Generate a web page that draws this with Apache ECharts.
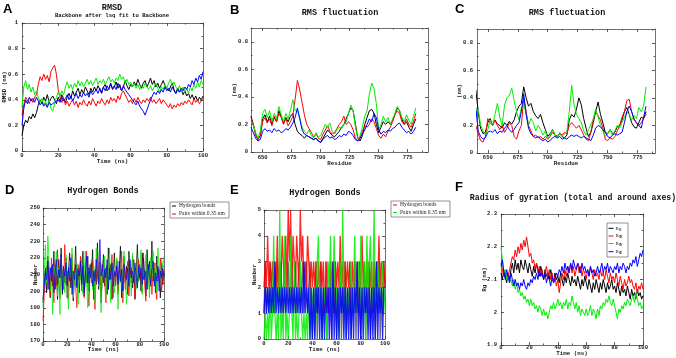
<!DOCTYPE html>
<html>
<head>
<meta charset="utf-8">
<title>MD analysis panels</title>
<script src="https://cdn.jsdelivr.net/npm/echarts@6.0.0/dist/echarts.min.js"></script>
<style>
  html, body { margin: 0; padding: 0; background: #fff; }
  #chart { width: 676px; height: 358px; }
</style>
</head>
<body>
<div id="chart"></div>
<script>
// ---- data ----
// A: RMSD, one value per ns, 0..100 ns
var rmsdBlack = [0.12,0.2,0.24,0.22,0.27,0.25,0.29,0.26,0.3,
  0.36,0.4,0.37,0.42,0.39,0.44,0.38,0.41,0.43,0.4,0.37,0.42,
  0.39,0.44,0.41,0.38,0.42,0.45,0.41,0.47,0.43,0.46,
  0.49,0.44,0.48,0.45,0.5,0.47,0.44,0.49,0.46,0.5,
  0.47,0.51,0.48,0.45,0.5,0.52,0.47,0.49,0.53,0.48,
  0.5,0.54,0.49,0.52,0.47,0.5,0.55,0.51,0.48,0.52,
  0.5,0.54,0.51,0.56,0.52,0.49,0.53,0.55,0.5,0.53,
  0.57,0.52,0.55,0.5,0.53,0.49,0.52,0.55,0.51,0.5,
  0.47,0.5,0.53,0.48,0.45,0.49,0.46,0.48,0.44,0.47,
  0.43,0.45,0.41,0.44,0.4,0.43,0.39,0.42,0.4,0.43];
var rmsdRed = [0.28,0.36,0.42,0.4,0.37,0.41,0.38,0.42,0.44,
  0.52,0.58,0.55,0.6,0.56,0.59,0.54,0.62,0.65,0.67,0.6,0.48,
  0.42,0.38,0.41,0.36,0.39,0.35,0.38,0.4,0.36,0.39,
  0.34,0.38,0.36,0.4,0.37,0.35,0.39,0.36,0.41,0.38,
  0.35,0.39,0.37,0.41,0.38,0.36,0.4,0.37,0.42,0.39,
  0.41,0.38,0.43,0.4,0.45,0.47,0.44,0.41,0.38,0.4,
  0.37,0.41,0.38,0.42,0.39,0.37,0.4,0.38,0.41,0.39,
  0.42,0.38,0.4,0.37,0.39,0.41,0.37,0.4,0.38,0.36,
  0.34,0.37,0.33,0.36,0.34,0.37,0.35,0.38,0.36,0.39,
  0.37,0.4,0.38,0.36,0.41,0.38,0.4,0.37,0.39,0.41];
var rmsdGreen = [0.34,0.5,0.55,0.48,0.52,0.46,0.5,0.44,0.47,
  0.42,0.38,0.41,0.36,0.39,0.35,0.4,0.33,0.31,0.37,0.42,0.46,
  0.43,0.47,0.44,0.5,0.54,0.49,0.52,0.48,0.53,0.5,
  0.55,0.51,0.54,0.5,0.53,0.56,0.52,0.55,0.51,0.54,
  0.57,0.52,0.55,0.53,0.56,0.52,0.55,0.58,0.54,0.56,
  0.53,0.57,0.55,0.6,0.56,0.58,0.53,0.56,0.52,0.54,
  0.5,0.53,0.49,0.52,0.48,0.51,0.49,0.53,0.5,0.48,
  0.51,0.47,0.5,0.53,0.49,0.46,0.5,0.48,0.52,0.49,
  0.53,0.56,0.51,0.54,0.5,0.48,0.51,0.47,0.5,0.46,
  0.49,0.45,0.5,0.47,0.52,0.49,0.54,0.5,0.55,0.52];
var rmsdBlue = [0.2,0.33,0.4,0.37,0.42,0.39,0.41,0.38,0.42,
  0.39,0.36,0.38,0.35,0.37,0.34,0.38,0.36,0.35,0.38,0.37,0.4,
  0.38,0.42,0.39,0.41,0.44,0.4,0.43,0.39,0.42,0.45,
  0.41,0.44,0.42,0.46,0.43,0.45,0.42,0.47,0.44,0.46,
  0.48,0.45,0.49,0.46,0.5,0.47,0.51,0.48,0.52,0.49,
  0.51,0.48,0.53,0.5,0.47,0.51,0.48,0.46,0.44,0.42,
  0.4,0.38,0.36,0.39,0.35,0.33,0.31,0.28,0.32,0.36,
  0.4,0.43,0.46,0.44,0.47,0.45,0.48,0.46,0.5,0.47,
  0.49,0.46,0.5,0.47,0.45,0.48,0.46,0.49,0.47,0.5,
  0.48,0.52,0.5,0.55,0.52,0.57,0.54,0.59,0.56,0.62];

// B: RMS fluctuation, residues 640..782 every 2
var rmsfBBlack = [0.26,0.2,0.13,0.09,0.12,0.24,0.27,0.22,0.26,0.2,
  0.25,0.22,0.3,0.26,0.21,0.25,0.22,0.26,0.28,0.2,
  0.15,0.13,0.12,0.1,0.12,0.11,0.1,0.09,0.1,0.08,
  0.07,0.1,0.13,0.16,0.14,0.12,0.11,0.13,0.15,0.18,
  0.2,0.24,0.28,0.32,0.3,0.2,0.1,0.08,0.12,0.2,
  0.25,0.3,0.31,0.28,0.2,0.14,0.18,0.22,0.2,0.22,
  0.2,0.23,0.27,0.32,0.3,0.24,0.2,0.22,0.18,0.15,
  0.2,0.24];
var rmsfBRed = [0.25,0.2,0.12,0.09,0.12,0.22,0.25,0.21,0.24,0.19,
  0.26,0.22,0.28,0.25,0.2,0.24,0.19,0.22,0.26,0.38,
  0.52,0.45,0.36,0.27,0.2,0.17,0.14,0.11,0.13,0.1,
  0.09,0.13,0.16,0.19,0.15,0.13,0.14,0.17,0.2,0.22,
  0.26,0.2,0.22,0.2,0.16,0.1,0.08,0.11,0.15,0.19,
  0.18,0.2,0.24,0.22,0.17,0.12,0.1,0.13,0.11,0.15,
  0.18,0.22,0.27,0.3,0.28,0.22,0.2,0.24,0.2,0.18,
  0.22,0.28];
var rmsfBGreen = [0.22,0.2,0.14,0.1,0.15,0.28,0.31,0.25,0.3,0.22,
  0.28,0.24,0.33,0.27,0.22,0.28,0.24,0.3,0.38,0.3,
  0.3,0.25,0.18,0.15,0.13,0.16,0.12,0.1,0.14,0.11,
  0.12,0.16,0.2,0.18,0.21,0.15,0.13,0.16,0.18,0.17,
  0.2,0.22,0.28,0.34,0.3,0.18,0.1,0.12,0.18,0.26,
  0.3,0.42,0.5,0.46,0.35,0.16,0.2,0.26,0.22,0.25,
  0.2,0.24,0.28,0.33,0.3,0.25,0.22,0.27,0.23,0.2,
  0.26,0.32];
var rmsfBBlue = [0.18,0.14,0.1,0.08,0.09,0.15,0.17,0.15,0.16,0.14,
  0.17,0.15,0.16,0.14,0.15,0.17,0.16,0.18,0.21,0.25,
  0.32,0.24,0.16,0.13,0.12,0.11,0.1,0.09,0.1,0.08,
  0.07,0.09,0.11,0.12,0.1,0.11,0.09,0.1,0.12,0.11,
  0.13,0.12,0.15,0.14,0.12,0.09,0.08,0.1,0.13,0.16,
  0.2,0.24,0.22,0.28,0.25,0.16,0.13,0.15,0.14,0.16,
  0.15,0.17,0.18,0.2,0.21,0.18,0.16,0.14,0.15,0.13,
  0.15,0.18];

// C: RMS fluctuation, residues 640..782 every 2
var rmsfCBlack = [0.46,0.3,0.18,0.14,0.15,0.22,0.25,0.2,0.24,0.21,
  0.2,0.18,0.22,0.2,0.23,0.21,0.24,0.3,0.34,0.36,
  0.48,0.4,0.34,0.36,0.3,0.27,0.25,0.28,0.22,0.17,
  0.12,0.14,0.17,0.13,0.12,0.14,0.12,0.11,0.13,0.24,
  0.28,0.26,0.32,0.4,0.35,0.25,0.18,0.12,0.15,0.22,
  0.3,0.37,0.28,0.22,0.15,0.14,0.17,0.14,0.15,0.19,
  0.2,0.24,0.3,0.33,0.28,0.22,0.19,0.18,0.22,0.26,
  0.25,0.3];
var rmsfCRed = [0.2,0.14,0.09,0.08,0.12,0.25,0.22,0.2,0.24,0.2,
  0.17,0.2,0.15,0.18,0.22,0.2,0.12,0.1,0.16,0.2,
  0.4,0.3,0.2,0.16,0.12,0.13,0.11,0.12,0.1,0.12,
  0.1,0.12,0.15,0.13,0.12,0.14,0.13,0.15,0.14,0.2,
  0.22,0.2,0.18,0.2,0.17,0.13,0.1,0.09,0.15,0.25,
  0.3,0.27,0.24,0.18,0.1,0.09,0.11,0.1,0.12,0.16,
  0.2,0.26,0.3,0.38,0.39,0.3,0.24,0.22,0.2,0.22,
  0.25,0.28];
var rmsfCGreen = [0.28,0.32,0.2,0.16,0.13,0.17,0.24,0.2,0.28,0.36,
  0.26,0.2,0.35,0.4,0.42,0.47,0.38,0.3,0.24,0.33,
  0.36,0.28,0.2,0.25,0.22,0.16,0.2,0.17,0.13,0.16,
  0.1,0.13,0.17,0.13,0.11,0.15,0.12,0.14,0.16,0.3,
  0.49,0.35,0.28,0.25,0.22,0.16,0.13,0.17,0.21,0.24,
  0.32,0.26,0.2,0.16,0.12,0.14,0.17,0.13,0.16,0.2,
  0.18,0.22,0.26,0.3,0.28,0.24,0.27,0.25,0.33,0.3,
  0.34,0.48];
var rmsfCBlue = [0.33,0.16,0.12,0.1,0.11,0.15,0.16,0.15,0.17,0.14,
  0.16,0.15,0.18,0.2,0.17,0.15,0.17,0.2,0.22,0.3,
  0.43,0.28,0.18,0.14,0.12,0.11,0.12,0.1,0.09,0.1,
  0.08,0.09,0.11,0.12,0.11,0.12,0.1,0.11,0.1,0.12,
  0.13,0.12,0.13,0.12,0.11,0.12,0.11,0.1,0.09,0.13,
  0.18,0.2,0.19,0.17,0.15,0.12,0.11,0.13,0.14,0.13,
  0.14,0.15,0.22,0.3,0.34,0.3,0.25,0.22,0.2,0.18,
  0.26,0.34];

// D: hydrogen bonds (count), one value per ns
var hbBlack = [193,205,214,199,221,207,196,215,203,224,
  201,212,195,219,208,226,198,213,205,220,
  196,211,223,202,215,194,209,227,203,214,
  199,218,206,224,197,212,205,221,200,216,
  209,225,195,213,204,229,201,217,193,210,
  222,203,214,198,226,207,216,195,211,223,
  204,218,200,213,227,196,210,221,205,215,
  198,224,208,214,202,219,195,212,228,206,
  216,200,223,207,213,197,225,209,218,203,
  230,206,214,199,221,208,213,196,217,204,211];
var hbRed = [182,198,206,215,201,212,197,220,205,193,
  216,203,225,208,196,219,210,201,228,204,
  212,195,218,206,222,199,214,203,190,216,
  207,221,200,213,196,209,224,202,191,215,
  205,218,199,189,212,226,203,214,197,209,
  220,206,193,215,201,217,208,222,196,211,
  203,219,198,212,207,224,193,215,201,209,
  218,197,213,205,221,208,196,214,202,219,
  207,212,199,223,205,194,216,209,201,213,
  198,211,217,203,195,214,206,220,200,208,213];
var hbGreen = [190,212,228,205,233,218,200,210,186,215,
  209,224,197,214,186,220,206,213,199,222,
  204,189,218,208,226,196,211,203,217,192,
  214,207,220,198,211,224,205,190,213,208,
  219,201,215,193,226,210,203,218,187,212,
  207,221,196,214,204,226,193,216,208,199,
  213,220,189,211,205,217,199,224,208,192,
  215,203,210,197,223,209,214,201,219,206,
  212,225,198,216,207,222,201,213,196,220,
  209,224,205,217,200,226,211,207,219,214,221];
var hbBlue = [195,203,212,207,218,201,214,206,216,199,
  211,219,204,213,208,222,200,215,209,217,
  203,214,206,220,198,212,207,216,202,213,
  209,218,204,215,199,211,221,205,214,208,
  217,203,212,206,219,210,204,231,209,216,
  205,213,208,219,201,214,207,217,203,212,
  209,215,204,218,206,213,200,216,210,207,
  214,203,219,208,212,205,217,209,202,215,
  208,214,204,220,207,212,201,216,209,205,
  213,218,203,211,206,215,200,212,208,214,209];

// E: hydrogen bonds (count), one value per ns
var hbeBlack = [1,3,1,2,1,3,2,1,3,1, 2,3,1,2,3,1,2,3,1,2,
  3,1,2,3,1,2,3,1,2,3, 1,2,3,1,2,3,1,2,3,1,
  0,2,1,3,0,2,1,3,0,2, 1,3,0,2,1,3,0,2,1,3,
  0,2,1,3,0,2,1,3,0,2, 1,3,0,2,1,3,0,2,1,3,
  0,2,1,3,0,2,1,3,0,2, 1,3,0,2,1,3,0,2,1,3, 2];
var hbeRed = [2,3,2,4,2,3,2,3,2,3, 2,4,2,3,2,4,3,2,4,2,
  5,3,5,2,4,3,2,4,3,2, 5,3,4,2,3,2,4,3,2,3,
  2,3,2,3,1,3,2,3,2,3, 1,2,3,1,2,3,2,3,1,3,
  2,3,2,4,2,3,1,3,2,3, 2,3,1,3,2,3,2,3,1,3,
  2,4,2,3,1,3,2,3,2,3, 1,3,2,3,2,4,2,3,2,3, 2];
var hbeGreen = [0,1,0,1,0,2,0,1,4,1, 0,1,0,5,0,1,0,4,0,1,
  0,1,4,1,0,3,0,1,0,1, 3,1,0,1,0,1,0,2,0,1,
  1,2,0,1,3,4,1,2,0,1, 2,1,0,3,2,4,1,2,4,1,
  2,1,0,3,1,5,2,1,0,2, 1,2,3,1,2,4,1,2,3,1,
  4,2,1,3,0,4,2,3,4,1, 2,5,1,2,3,2,1,2,3,1, 2];
var hbeBlue = [1,2,1,2,1,2,1,2,1,3, 1,2,1,2,1,2,1,2,1,2,
  1,2,1,2,1,2,1,2,1,2, 1,2,1,3,1,2,1,2,0,2,
  0,2,0,2,1,2,0,2,0,2, 0,2,1,2,0,2,0,3,0,2,
  0,2,0,2,1,2,0,2,0,2, 0,2,0,2,0,2,1,3,0,2,
  0,2,0,2,1,2,0,2,0,2, 0,2,0,3,0,2,1,2,0,2, 2];

// F: radius of gyration (nm), one value per ns
var rgTotal = [2.12,2.1,2.13,2.11,2.09,2.12,2.1,2.13,2.15,2.12,
  2.16,2.13,2.15,2.12,2.16,2.14,2.13,2.16,2.14,2.12,
  2.15,2.13,2.11,2.14,2.12,2.15,2.13,2.11,2.14,2.12,
  2.1,2.13,2.11,2.12,2.1,2.13,2.11,2.09,2.12,2.1,
  2.11,2.09,2.12,2.1,2.08,2.11,2.09,2.12,2.1,2.08,
  2.11,2.09,2.1,2.08,2.11,2.09,2.07,2.1,2.08,2.11,
  2.09,2.07,2.1,2.08,2.06,2.09,2.07,2.1,2.08,2.06,
  2.09,2.07,2.1,2.08,2.06,2.09,2.07,2.08,2.1,2.07,
  2.08,2.06,2.09,2.07,2.05,2.08,2.06,2.07,2.05,2.08,
  2.06,2.04,2.07,2.05,2.06,2.04,2.07,2.05,2.06,2.04,2.05];
var rgX = [2.15,2.13,2.11,2.12,2.1,2.11,2.13,2.15,2.17,2.16,
  2.19,2.17,2.2,2.18,2.21,2.19,2.22,2.2,2.23,2.2,
  2.17,2.18,2.15,2.16,2.13,2.15,2.12,2.14,2.11,2.13,
  2.1,2.12,2.14,2.11,2.13,2.1,2.12,2.09,2.11,2.08,
  2.1,2.06,2.09,2.12,2.1,2.13,2.11,2.14,2.12,2.15,
  2.12,2.14,2.11,2.13,2.15,2.12,2.14,2.11,2.13,2.12,
  2.1,2.13,2.11,2.14,2.12,2.1,2.13,2.11,2.12,2.1,
  2.13,2.11,2.12,2.1,2.13,2.11,2.09,2.12,2.1,2.11,
  2.09,2.12,2.1,2.08,2.11,2.09,2.07,2.1,2.08,2.09,
  2.11,2.09,2.1,2.08,2.07,2.09,2.06,2.08,2.07,2.09,2.07];
var rgY = [2.2,2.16,2.12,2.13,2.1,2.11,2.09,2.1,2.08,2.1,
  2.07,2.09,2.06,2.07,2.05,2.06,2.04,2.05,2.03,2.04,
  2.02,2.04,2.02,2.03,2.01,2.02,2.0,2.02,2.01,1.99,
  2.01,1.99,2.0,1.98,2.0,2.02,2.01,2.03,2.01,2.02,
  2.04,2.02,2.03,2.01,2.03,2.02,2.04,2.01,2.03,2.02,
  2.05,2.03,2.01,2.03,2.0,2.02,1.99,2.01,2.0,1.99,
  2.01,1.99,2.0,2.02,1.99,2.01,2.0,1.98,2.01,1.99,
  2.02,2.01,2.03,2.02,2.04,2.03,2.05,2.03,2.02,2.04,
  2.02,2.0,1.98,2.01,2.0,2.02,2.01,2.03,2.02,2.04,
  2.03,2.02,2.04,2.05,2.03,2.06,2.04,2.02,2.03,2.01,2.02];
var rgZ = [2.14,2.16,2.12,2.1,2.13,2.11,2.09,2.12,2.1,2.08,
  2.1,2.08,2.09,2.07,2.09,2.08,2.1,2.08,2.07,2.09,
  2.08,2.1,2.09,2.11,2.1,2.12,2.1,2.13,2.11,2.12,
  2.1,2.12,2.09,2.11,2.1,2.08,2.11,2.09,2.1,2.12,
  2.11,2.13,2.12,2.14,2.12,2.15,2.13,2.14,2.12,2.15,
  2.13,2.16,2.14,2.13,2.15,2.14,2.12,2.15,2.13,2.14,
  2.12,2.13,2.11,2.14,2.12,2.13,2.11,2.12,2.14,2.12,
  2.13,2.15,2.12,2.14,2.13,2.15,2.12,2.14,2.13,2.12,
  2.14,2.13,2.15,2.12,2.14,2.13,2.15,2.14,2.12,2.14,
  2.13,2.15,2.14,2.16,2.15,2.17,2.14,2.16,2.18,2.17,2.19];

// tick values
var timeTicks = [0, 20, 40, 60, 80, 100];
var timeMinor = [10, 30, 50, 70, 90];
var residueTicks = [650, 675, 700, 725, 750, 775];
var residueMinor = [662.5, 687.5, 712.5, 737.5, 762.5, 787.5];
var rmsdTicks = [0, 0.2, 0.4, 0.6, 0.8, 1];
var rmsdMinor = [0.1, 0.3, 0.5, 0.7, 0.9];
var rmsfTicks = [0, 0.2, 0.4, 0.6, 0.8];
var rmsfMinor = [0.1, 0.3, 0.5, 0.7, 0.9];
var hbTicks = [170, 180, 190, 200, 210, 220, 230, 240, 250];
var hbMinor = [175, 185, 195, 205, 215, 225, 235, 245];
var hbeTicks = [0, 1, 2, 3, 4, 5];
var hbeMinor = [0.5, 1.5, 2.5, 3.5, 4.5];
var rgTicks = [1.9, 2, 2.1, 2.2, 2.3];
var rgMinor = [1.95, 2.05, 2.15, 2.25];

var BLACK = '#000000', RED = '#ff0000', GREEN = '#00ee00', BLUE = '#0000ff';

// sample positions (time in ns, residue number)
function steps(start, step, n) {
  var out = [];
  for (var i = 0; i < n; i++) out.push(start + i * step);
  return out;
}
var timeNs = steps(0, 1, 101);
var residues = steps(640, 2, 72);

function pairs(xs, ys) {
  return ys.map(function (v, i) { return [xs[i], v]; });
}

var monoFont = 'Liberation Mono';
var axisColor = '#707070';

var panels = [
  { letter: 'A', lx: 3, ly: 3,
    grid: { left: 22, top: 23, width: 181, height: 128 },
    titles: [{ text: 'RMSD', x: 112, y: 3, size: 8.5 },
             { text: 'Backbone after lsq fit to Backbone', x: 112, y: 13, size: 5.6 }],
    x: { min: 0, max: 100, ticks: timeTicks, minor: timeMinor, name: 'Time (ns)', gap: 7.5, margin: 2 },
    y: { min: 0, max: 1, ticks: rmsdTicks, minor: rmsdMinor, name: 'RMSD (nm)', gap: 14.5, margin: 4 },
    xs: timeNs, lines: [[rmsdBlack, BLACK], [rmsdRed, RED], [rmsdGreen, GREEN], [rmsdBlue, BLUE]],
    width: 1, opacity: 1 },
  { letter: 'B', lx: 230, ly: 4,
    grid: { left: 251, top: 28, width: 177, height: 124 },
    titles: [{ text: 'RMS fluctuation', x: 340, y: 8, size: 8.5 }],
    x: { min: 640, max: 792.5, ticks: residueTicks, minor: residueMinor, name: 'Residue', gap: 8.5, margin: 3 },
    y: { min: 0, max: 0.9, ticks: rmsfTicks, minor: rmsfMinor, name: '(nm)', gap: 13, margin: 3 },
    xs: residues, lines: [[rmsfBBlack, BLACK], [rmsfBRed, RED], [rmsfBGreen, GREEN], [rmsfBBlue, BLUE]],
    width: 1, opacity: 1 },
  { letter: 'C', lx: 455, ly: 3,
    grid: { left: 477, top: 29, width: 178, height: 124 },
    titles: [{ text: 'RMS fluctuation', x: 567, y: 8, size: 8.5 }],
    x: { min: 641, max: 789.5, ticks: residueTicks, minor: residueMinor, name: 'Residue', gap: 8, margin: 2 },
    y: { min: 0, max: 0.9, ticks: rmsfTicks, minor: rmsfMinor, name: '(nm)', gap: 14, margin: 4 },
    xs: residues, lines: [[rmsfCBlack, BLACK], [rmsfCRed, RED], [rmsfCGreen, GREEN], [rmsfCBlue, BLUE]],
    width: 1, opacity: 1 },
  { letter: 'D', lx: 5, ly: 184,
    grid: { left: 43, top: 208, width: 121, height: 133 },
    titles: [{ text: 'Hydrogen Bonds', x: 103, y: 186, size: 8.5 }],
    x: { min: 0, max: 100, ticks: timeTicks, minor: timeMinor, name: 'Time (ns)', gap: 5.5, margin: 0.5 },
    y: { min: 170, max: 250, ticks: hbTicks, minor: hbMinor, name: 'Number', gap: 4, margin: 3 },
    xs: timeNs, lines: [[hbBlack, BLACK], [hbRed, RED], [hbGreen, GREEN], [hbBlue, BLUE]],
    width: 1, opacity: 0.75 },
  { letter: 'E', lx: 230, ly: 184,
    grid: { left: 264, top: 210, width: 121, height: 129 },
    titles: [{ text: 'Hydrogen Bonds', x: 325, y: 188, size: 8.5 }],
    x: { min: 0, max: 100, ticks: timeTicks, minor: timeMinor, name: 'Time (ns)', gap: 8, margin: 2 },
    y: { min: 0, max: 5, ticks: hbeTicks, minor: hbeMinor, name: 'Number', gap: 6, margin: 3 },
    xs: timeNs, lines: [[hbeBlack, '#555555'], [hbeRed, RED], [hbeGreen, GREEN], [hbeBlue, BLUE]],
    width: 1.3, opacity: 0.85 },
  { letter: 'F', lx: 455, ly: 181,
    grid: { left: 501, top: 214, width: 142, height: 131 },
    titles: [{ text: 'Radius of gyration (total and around axes)', x: 573, y: 194, size: 8.2 }],
    x: { min: 0, max: 100, ticks: timeTicks, minor: timeMinor, name: 'Time (ns)', gap: 5.5, margin: 0 },
    y: { min: 1.9, max: 2.3, ticks: rgTicks, minor: rgMinor, name: 'Rg (nm)', gap: 13, margin: 4 },
    xs: timeNs, lines: [[rgTotal, BLACK], [rgX, RED], [rgY, GREEN], [rgZ, BLUE]],
    width: 1, opacity: 1 }
];

function makeAxis(gi, position, spec, values, len, withLine, withLabel) {
  var ax = {
    type: 'value', gridIndex: gi, position: position,
    min: spec.min, max: spec.max, silent: true,
    axisLine: { show: withLine, onZero: false, lineStyle: { color: axisColor, width: 1 } },
    axisTick: { show: true, inside: true, length: len, customValues: values,
      lineStyle: { color: '#333', width: 0.8 } },
    axisLabel: { show: false },
    splitLine: { show: false }
  };
  if (withLabel) {
    ax.axisLabel = { show: true, customValues: values, margin: spec.margin,
      fontFamily: monoFont, fontSize: 5.5, fontWeight: 'bold', color: '#222' };
    ax.name = spec.name;
    ax.nameLocation = 'middle';
    ax.nameGap = spec.gap;
    ax.nameMoveOverlap = false;
    ax.nameTextStyle = { fontFamily: monoFont, fontSize: 5.8, fontWeight: 'bold', color: '#222' };
  }
  return ax;
}

var grids = [], xAxes = [], yAxes = [], series = [], titles = [], graphics = [];

panels.forEach(function (p, gi) {
  grids.push(Object.assign({ containLabel: false, outerBoundsMode: 'none' }, p.grid));

  var xi = xAxes.length;
  xAxes.push(makeAxis(gi, 'bottom', p.x, p.x.ticks, 3, true, true));
  xAxes.push(makeAxis(gi, 'bottom', p.x, p.x.minor, 1.5, false, false));
  xAxes.push(makeAxis(gi, 'top', p.x, p.x.ticks, 3, true, false));
  xAxes.push(makeAxis(gi, 'top', p.x, p.x.minor, 1.5, false, false));

  var yi = yAxes.length;
  yAxes.push(makeAxis(gi, 'left', p.y, p.y.ticks, 3, true, true));
  yAxes.push(makeAxis(gi, 'left', p.y, p.y.minor, 1.5, false, false));
  yAxes.push(makeAxis(gi, 'right', p.y, p.y.ticks, 3, true, false));
  yAxes.push(makeAxis(gi, 'right', p.y, p.y.minor, 1.5, false, false));

  p.lines.forEach(function (ln) {
    series.push({
      type: 'line', xAxisIndex: xi, yAxisIndex: yi,
      data: pairs(p.xs, ln[0]),
      symbol: 'none', showSymbol: false, silent: true, clip: true,
      lineStyle: { color: ln[1], width: p.width, opacity: p.opacity }
    });
  });

  p.titles.forEach(function (t) {
    titles.push({ text: t.text, left: t.x, top: t.y, textAlign: 'center', padding: 0,
      textStyle: { fontFamily: monoFont, fontSize: t.size, fontWeight: 'bold', color: '#111' } });
  });

  graphics.push({ type: 'text', x: p.lx, y: p.ly, silent: true,
    style: { text: p.letter, font: 'bold 13px "Liberation Sans"', fill: '#000', textVerticalAlign: 'top' } });
});

// legends drawn as small boxes, Grace style
var serifFont = '5.5px "Liberation Serif"';
function legendRow(x, y, color, label) {
  return [
    { type: 'line', silent: true, shape: { x1: x, y1: y, x2: x + 4, y2: y },
      style: { stroke: color, lineWidth: 1 } },
    { type: 'text', silent: true, x: x + 7, y: y,
      style: { text: label, font: serifFont, fill: '#222', textVerticalAlign: 'middle' } }
  ];
}
graphics.push({ type: 'rect', silent: true, shape: { x: 170, y: 202, width: 59, height: 16 },
  style: { fill: '#fff', stroke: '#777', lineWidth: 0.8 } });
graphics = graphics.concat(legendRow(172, 206, BLACK, 'Hydrogen bonds'),
                           legendRow(172, 214, RED, 'Pairs within 0.35 nm'));
graphics.push({ type: 'rect', silent: true, shape: { x: 391, y: 201, width: 59, height: 16 },
  style: { fill: '#fff', stroke: '#777', lineWidth: 0.8 } });
graphics = graphics.concat(legendRow(393, 205, RED, 'Hydrogen bonds'),
                           legendRow(393, 212.5, GREEN, 'Pairs within 0.35 nm'));

// F legend with subscripts
graphics.push({ type: 'rect', silent: true, z: 10, shape: { x: 607, y: 223, width: 21, height: 34 },
  style: { fill: '#fff', stroke: '#777', lineWidth: 0.8 } });
[[228.3, BLACK, 'Rg', ''], [236, RED, 'Rg', 'X'], [243.5, GREEN, 'Rg', 'Y'], [251.7, BLUE, 'Rg', 'Z']]
  .forEach(function (r) {
    graphics.push({ type: 'line', silent: true, z: 11, shape: { x1: 608.5, y1: r[0], x2: 613.5, y2: r[0] },
      style: { stroke: r[1], lineWidth: 1 } });
    graphics.push({ type: 'text', silent: true, z: 11, x: 615.5, y: r[0],
      style: { text: r[2], font: '5px "Liberation Serif"', fill: '#222', textVerticalAlign: 'middle' } });
    if (r[3]) {
      graphics.push({ type: 'text', silent: true, z: 11, x: 620, y: r[0] + 1.5,
        style: { text: r[3], font: '3.5px "Liberation Serif"', fill: '#222', textVerticalAlign: 'middle' } });
    }
  });

var chart = echarts.init(document.getElementById('chart'), null, { renderer: 'canvas' });
chart.setOption({
  animation: false,
  backgroundColor: '#fff',
  title: titles,
  grid: grids,
  xAxis: xAxes,
  yAxis: yAxes,
  series: series,
  graphic: { elements: graphics }
});
</script>
</body>
</html>
